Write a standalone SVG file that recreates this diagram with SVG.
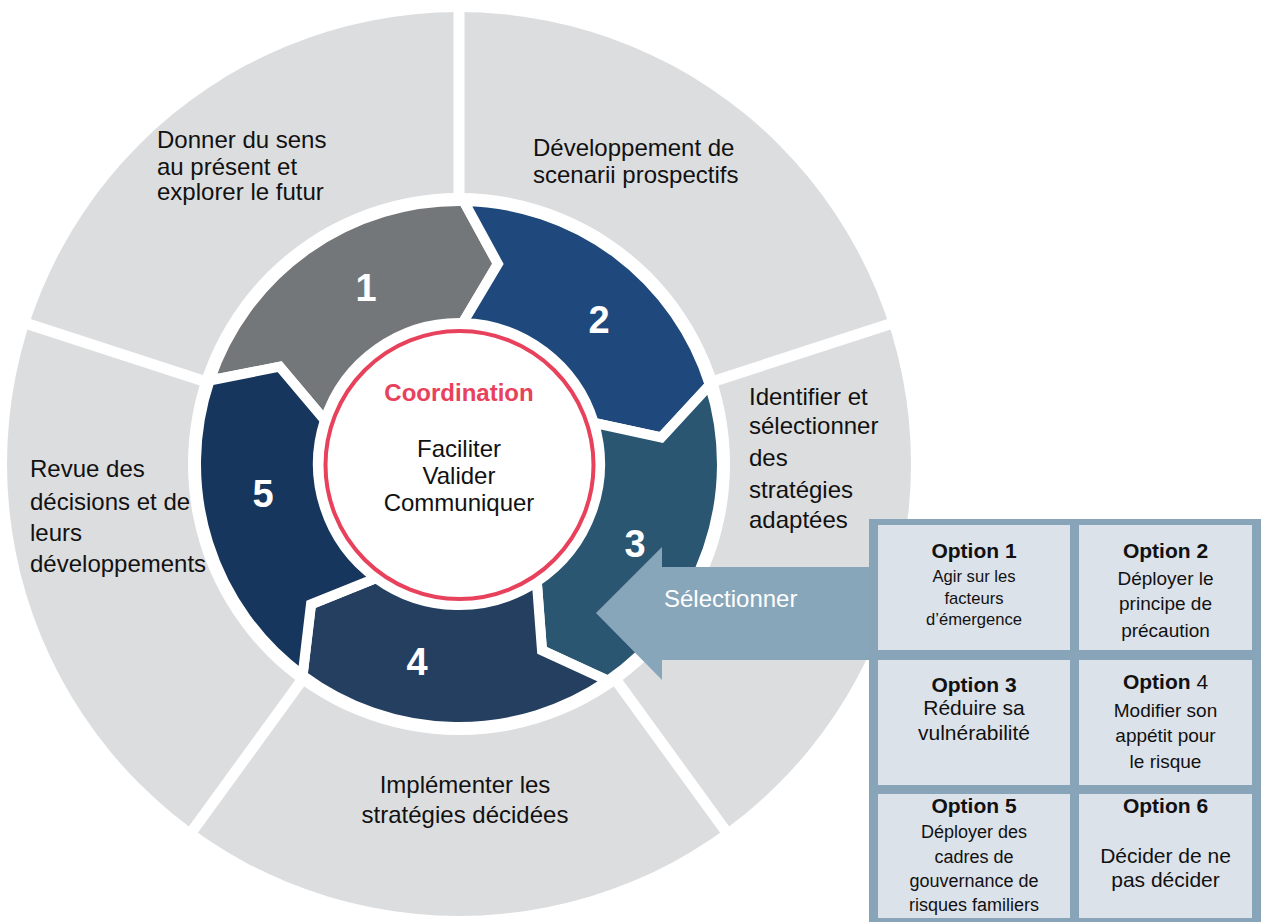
<svg xmlns="http://www.w3.org/2000/svg" width="1261" height="922" viewBox="0 0 1261 922">
<style>
text{font-family:"Liberation Sans",Arial,sans-serif;fill:#111}
.lbl{font-size:24px}
.num{font-size:38px;font-weight:bold;fill:#fff;text-anchor:middle}
.seg{stroke:#fff;stroke-width:10;stroke-linejoin:miter}
.div{stroke:#fff;stroke-width:11}
.cell{fill:#DCE2EA}
.opt{font-size:21px;font-weight:bold;text-anchor:middle}
.ct{text-anchor:middle}
</style>
<rect width="1261" height="922" fill="#fff"/>
<g id="outer-ring">
<circle cx="459" cy="464" r="452" fill="#DCDDDF"/>
<line class="div" x1="459" y1="464" x2="459" y2="-6"/>
<line class="div" x1="459" y1="464" x2="906" y2="318.8"/>
<line class="div" x1="459" y1="464" x2="735.3" y2="844.2"/>
<line class="div" x1="459" y1="464" x2="182.7" y2="844.2"/>
<line class="div" x1="459" y1="464" x2="12" y2="318.8"/>
<circle cx="459" cy="464" r="271" fill="#fff"/>
</g>
<g id="label-1">
<text class="lbl" x="157" y="148">Donner du sens</text>
<text class="lbl" x="157" y="175">au présent et</text>
<text class="lbl" x="157" y="200">explorer le futur</text>
</g>
<g id="label-2">
<text class="lbl" x="533" y="156">Développement de</text>
<text class="lbl" x="533" y="183">scenarii prospectifs</text>
</g>
<g id="label-3">
<text class="lbl" x="749" y="405">Identifier et</text>
<text class="lbl" x="749" y="434">sélectionner</text>
<text class="lbl" x="749" y="466">des</text>
<text class="lbl" x="749" y="498">stratégies</text>
<text class="lbl" x="749" y="528">adaptées</text>
</g>
<g id="label-4">
<text class="lbl ct" x="465" y="793">Implémenter les</text>
<text class="lbl ct" x="465" y="823">stratégies décidées</text>
</g>
<g id="label-5">
<text class="lbl" x="30" y="477">Revue des</text>
<text class="lbl" x="30" y="510">décisions et de</text>
<text class="lbl" x="30" y="541">leurs</text>
<text class="lbl" x="30" y="572">développements</text>
</g>
<g id="step-1">
<path class="seg" fill="#737779" d="M209.6 380.5 A263 263 0 0 1 463.6 201 L497.9 263.8 L462.7 323 A141 141 0 0 0 324.9 420.4 L279.7 366.7 Z"/>
<text class="num" x="366" y="301">1</text>
</g>
<g id="step-2">
<path class="seg" fill="#1F497C" d="M463.6 201 A263 263 0 0 1 709.8 384.9 L661.3 437.4 L593.8 422.8 A141 141 0 0 0 462.7 323 L497.9 263.8 Z"/>
<text class="num" x="599" y="333">2</text>
</g>
<g id="step-3">
<path class="seg" fill="#2A5671" d="M709.8 384.9 A263 263 0 0 1 608 680.7 L542 650.4 L536.8 581.6 A141 141 0 0 0 593.8 422.8 L661.3 437.4 Z"/>
<text class="num" x="635" y="557">3</text>
</g>
<g id="step-4">
<path class="seg" fill="#243F60" d="M608 680.7 A263 263 0 0 1 302.6 675.4 L311 604.4 L376.1 578.1 A141 141 0 0 0 536.8 581.6 L542 650.4 Z"/>
<text class="num" x="417" y="675">4</text>
</g>
<g id="step-5">
<path class="seg" fill="#17365D" d="M302.6 675.4 A263 263 0 0 1 209.6 380.5 L279.7 366.7 L324.9 420.4 A141 141 0 0 0 376.1 578.1 L311 604.4 Z"/>
<text class="num" x="263" y="507">5</text>
</g>
<g id="coordination">
<circle cx="459.5" cy="465" r="134" fill="#fff" stroke="#E8415C" stroke-width="4"/>
<text x="459" y="401" text-anchor="middle" font-size="24" font-weight="bold" style="fill:#E8415C">Coordination</text>
<text class="lbl ct" x="459" y="457">Faciliter</text>
<text class="lbl ct" x="459" y="484">Valider</text>
<text class="lbl ct" x="459" y="511">Communiquer</text>
</g>
<g id="connectors">
<polygon fill="#88A6BA" points="596,613 662,547 662,567 875,567 875,660 662,660 662,680"/>
<text class="lbl" x="664" y="607" style="fill:#fff">Sélectionner</text>
</g>
<g id="options">
<rect x="869" y="519" width="392" height="403" fill="#87A4B9"/>
<g id="option-1">
<rect class="cell" x="878" y="525" width="192" height="125"/>
<text class="opt" x="974" y="558">Option 1</text>
<text class="ct" x="974" y="582" font-size="16.6">Agir sur les</text>
<text class="ct" x="974" y="604" font-size="16.6">facteurs</text>
<text class="ct" x="974" y="625" font-size="16.6">d’émergence</text>
</g>
<g id="option-2">
<rect class="cell" x="1079" y="525" width="173" height="125"/>
<text class="opt" x="1165.5" y="558">Option 2</text>
<text class="ct" x="1165.5" y="585" font-size="19">Déployer le</text>
<text class="ct" x="1165.5" y="610" font-size="19">principe de</text>
<text class="ct" x="1165.5" y="637" font-size="19">précaution</text>
</g>
<g id="option-3">
<rect class="cell" x="878" y="660" width="192" height="125"/>
<text class="opt" x="974" y="692">Option 3</text>
<text class="ct" x="974" y="715" font-size="21">Réduire sa</text>
<text class="ct" x="974" y="740" font-size="21">vulnérabilité</text>
</g>
<g id="option-4">
<rect class="cell" x="1079" y="660" width="173" height="125"/>
<text class="ct" x="1165.5" y="689" font-size="21"><tspan font-weight="bold">Option</tspan> 4</text>
<text class="ct" x="1165.5" y="717" font-size="19">Modifier son</text>
<text class="ct" x="1165.5" y="742" font-size="19">appétit pour</text>
<text class="ct" x="1165.5" y="768" font-size="19">le risque</text>
</g>
<g id="option-5">
<rect class="cell" x="878" y="794" width="192" height="124"/>
<text class="opt" x="974" y="813">Option 5</text>
<text class="ct" x="974" y="838" font-size="18">Déployer des</text>
<text class="ct" x="974" y="863" font-size="18">cadres de</text>
<text class="ct" x="974" y="887" font-size="18">gouvernance de</text>
<text class="ct" x="974" y="911" font-size="18">risques familiers</text>
</g>
<g id="option-6">
<rect class="cell" x="1079" y="794" width="173" height="124"/>
<text class="opt" x="1165.5" y="813">Option 6</text>
<text class="ct" x="1165.5" y="863" font-size="21">Décider de ne</text>
<text class="ct" x="1165.5" y="887" font-size="21">pas décider</text>
</g>
</g>
</svg>
